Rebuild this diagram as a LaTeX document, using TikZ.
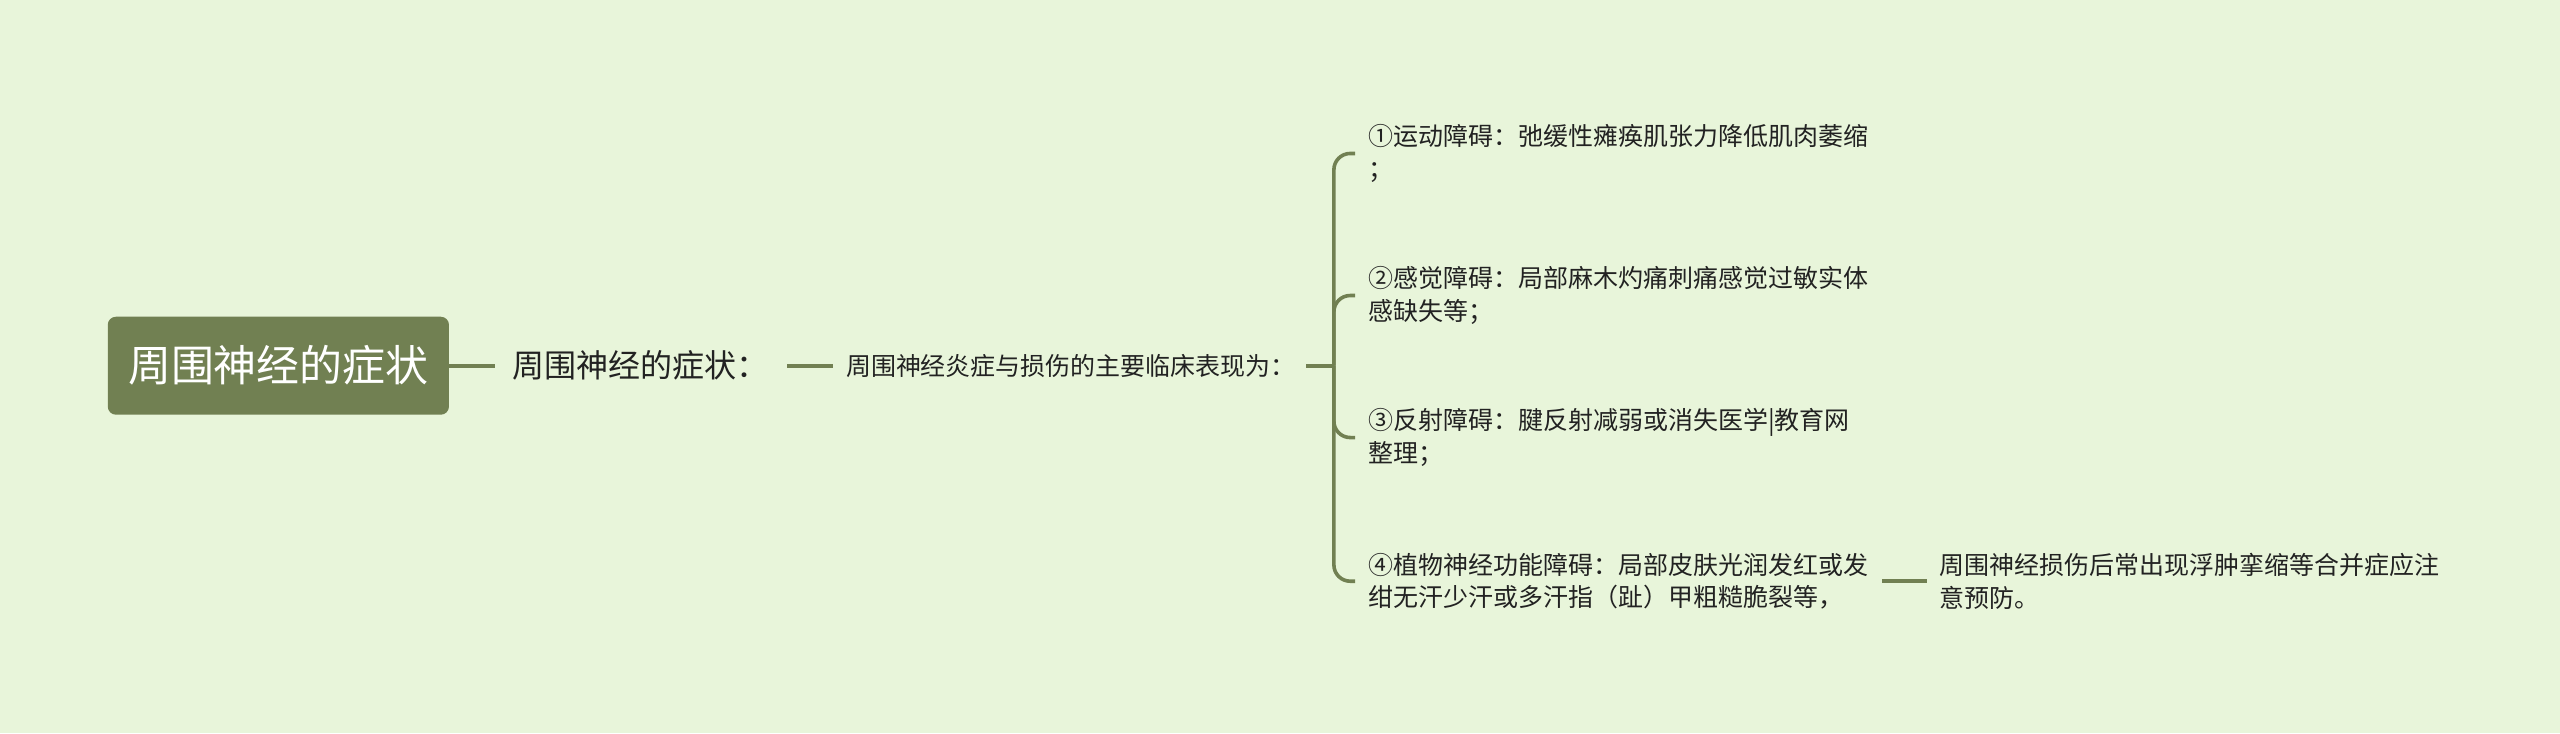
\documentclass[tikz,border=0pt]{standalone}
\usepackage{fontspec}
\newfontfamily\cjk{Noto Sans CJK SC}
\definecolor{bg}{RGB}{232,245,218}
\definecolor{olive}{RGB}{113,128,82}
\definecolor{txt}{RGB}{34,34,34}
\begin{document}
\begin{tikzpicture}[x=1pt,y=1pt,
  conn/.style={draw=olive,line width=2.2pt},
  rootbox/.style={fill=olive,rounded corners=5pt,minimum width=209pt,minimum height=60pt,inner sep=0pt,text=white,font=\cjk\fontsize{26.3}{30}\selectfont},
  lvlone/.style={anchor=west,inner sep=0pt,text=txt,font=\cjk\fontsize{19.6}{24}\selectfont},
  leaf/.style={anchor=west,inner sep=0pt,align=left,text=txt,font=\cjk\fontsize{15.3}{20}\selectfont}]
\fill[bg] (0,0) rectangle (1568,-449);
\useasboundingbox (0,0) rectangle (1568,-449);
\node[rootbox] (root) at (170.5,-224) {周围神经的症状};
\node[lvlone] (n1) at (314,-224) {周围神经的症状：};
\node[leaf] (n2) at (518,-224) {周围神经炎症与损伤的主要临床表现为：};
\coordinate (br) at (817,-224);
\node[leaf] (c1) at (838,-94) {①运动障碍：弛缓性瘫痪肌张力降低肌肉萎缩\\；};
\node[leaf] (c2) at (838,-181) {②感觉障碍：局部麻木灼痛刺痛感觉过敏实体\\感缺失等；};
\node[leaf] (c3) at (838,-268) {③反射障碍：腱反射减弱或消失医学|教育网\\整理；};
\node[leaf] (c4) at (838,-356) {④植物神经功能障碍：局部皮肤光润发红或发\\绀无汗少汗或多汗指（趾）甲粗糙脆裂等，};
\node[leaf] (c5) at (1188,-356) {周围神经损伤后常出现浮肿挛缩等合并症应注\\意预防。};
\draw[conn] (root.east) -- ([xshift=-11pt]n1.west);
\draw[conn] ([xshift=11pt]n1.east) -- ([xshift=-8pt]n2.west);
\draw[conn] ([xshift=-17pt]br) -- (br);
\foreach \c in {c1,c2,c3,c4}
  \draw[conn,rounded corners=10pt] (br) |- ([xshift=-8pt]\c.west);
\draw[conn] ([xshift=1153pt-838pt]c4.west |- c4.west) -- ([xshift=-8pt]c5.west);
\end{tikzpicture}
\end{document}
